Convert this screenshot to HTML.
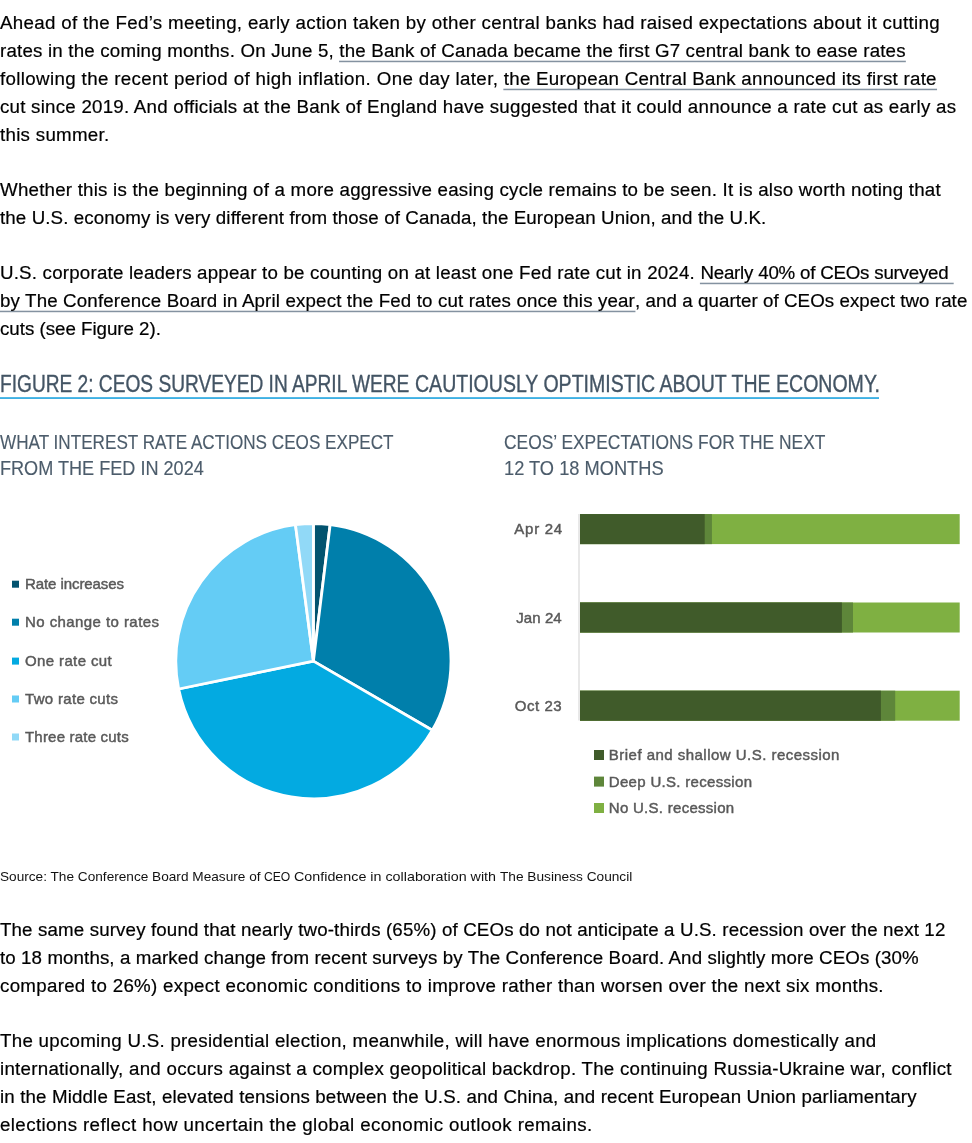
<!DOCTYPE html>
<html lang="en">
<head>
<meta charset="utf-8">
<title>Figure 2: CEOs surveyed in April were cautiously optimistic about the economy</title>
<style>
html,body{margin:0;padding:0;background:#fff;}
body{will-change:transform;width:972px;height:1143px;position:relative;overflow:hidden;font-family:"Liberation Sans",sans-serif;color:#000;}
p,h2,h3{margin:0;padding:0;font-weight:normal;}
.para{-webkit-text-stroke:0.2px #000;position:absolute;left:0;width:972px;font-size:18px;line-height:28px;color:#000;}
.para .ln{display:block;white-space:pre;height:28px;transform:scaleX(1.04);transform-origin:0 0;}
a{color:inherit;text-decoration:none;background:linear-gradient(to bottom,rgba(132,146,160,.3) 0,rgba(132,146,160,.3) 1px,rgba(132,146,160,1) 1px,rgba(132,146,160,1) 2px,rgba(132,146,160,.22) 2px,rgba(132,146,160,.22) 3px) no-repeat 0 100%/100% 3px;padding-bottom:2px;}
.one{position:absolute;white-space:pre;}
.fig{color:#435464;-webkit-text-stroke:0.35px #435464;}
.sub{color:#4c5c6b;-webkit-text-stroke:0.15px #4c5c6b;}
.src{color:#111;}
svg{position:absolute;left:0;top:0;}
svg text{font-family:"Liberation Sans",sans-serif;}
.lg{font-size:15px;font-weight:normal;fill:#595959;stroke:#595959;stroke-width:0.45px;}
</style>
</head>
<body>

<p class="para" style="top:9.00px">
<span class="ln" style="letter-spacing:0.305px">Ahead of the Fed’s meeting, early action taken by other central banks had raised expectations about it cutting</span>
<span class="ln"><span style="letter-spacing:0.181px">rates in the coming months. On June 5, </span><a style="letter-spacing:0.175px">the Bank of Canada became the first G7 central bank to ease rates</a></span>
<span class="ln"><span style="letter-spacing:0.341px">following the recent period of high inflation. One day later, </span><a style="letter-spacing:0.241px">the European Central Bank announced its first rate</a></span>
<span class="ln" style="letter-spacing:0.223px">cut since 2019. And officials at the Bank of England have suggested that it could announce a rate cut as early as</span>
<span class="ln" style="letter-spacing:0.270px">this summer.</span>
</p>
<p class="para" style="top:176.00px">
<span class="ln" style="letter-spacing:0.207px">Whether this is the beginning of a more aggressive easing cycle remains to be seen. It is also worth noting that</span>
<span class="ln" style="letter-spacing:0.099px">the U.S. economy is very different from those of Canada, the European Union, and the U.K.</span>
</p>
<p class="para" style="top:259.00px">
<span class="ln"><span style="letter-spacing:0.193px">U.S. corporate leaders appear to be counting on at least one Fed rate cut in 2024. </span><a style="letter-spacing:-0.205px">Nearly 40% of CEOs surveyed </a></span>
<span class="ln"><a style="letter-spacing:0.141px">by The Conference Board in April expect the Fed to cut rates once this year</a><span style="letter-spacing:0.062px">, and a quarter of CEOs expect two rate</span></span>
<span class="ln" style="letter-spacing:-0.018px">cuts (see Figure 2).</span>
</p>
<p class="para" style="top:916.00px">
<span class="ln" style="letter-spacing:0.133px">The same survey found that nearly two-thirds (65%) of CEOs do not anticipate a U.S. recession over the next 12</span>
<span class="ln" style="letter-spacing:0.091px">to 18 months, a marked change from recent surveys by The Conference Board. And slightly more CEOs (30%</span>
<span class="ln" style="letter-spacing:0.277px">compared to 26%) expect economic conditions to improve rather than worsen over the next six months.</span>
</p>
<p class="para" style="top:1027.00px">
<span class="ln" style="letter-spacing:0.264px">The upcoming U.S. presidential election, meanwhile, will have enormous implications domestically and</span>
<span class="ln" style="letter-spacing:0.253px">internationally, and occurs against a complex geopolitical backdrop. The continuing Russia-Ukraine war, conflict</span>
<span class="ln" style="letter-spacing:0.132px">in the Middle East, elevated tensions between the U.S. and China, and recent European Union parliamentary</span>
<span class="ln" style="letter-spacing:0.375px">elections reflect how uncertain the global economic outlook remains.</span>
</p>
<h2 class="one fig" style="left:0px;top:368.00px;font-size:23px;line-height:32px;"><span style="position:absolute;left:0px;top:0;transform:scaleX(0.8318);transform-origin:0 0">FIGURE 2: CEOS SURVEYED IN APRIL WERE </span><span style="position:absolute;left:414.6px;top:0;transform:scaleX(0.8491);transform-origin:0 0">CAUTIOUSLY OPTIMISTIC ABOUT THE ECONOMY.</span></h2>
<h3 class="one sub" style="left:0px;top:427.00px;font-size:20.5px;line-height:29px;transform:scaleX(0.8353);transform-origin:0 0">WHAT INTEREST RATE ACTIONS CEOS EXPECT</h3>
<h3 class="one sub" style="left:0px;top:453.00px;font-size:20.5px;line-height:29px;transform:scaleX(0.8827);transform-origin:0 0">FROM THE FED IN 2024</h3>
<h3 class="one sub" style="left:504px;top:427.00px;font-size:20.5px;line-height:29px;transform:scaleX(0.8490);transform-origin:0 0">CEOS’ EXPECTATIONS FOR THE NEXT</h3>
<h3 class="one sub" style="left:504px;top:453.00px;font-size:20.5px;line-height:29px;transform:scaleX(0.8904);transform-origin:0 0">12 TO 18 MONTHS</h3>
<p class="one src" style="left:0px;top:867.00px;font-size:13.5px;line-height:19px;"><span style="position:absolute;left:0px;top:0;transform:scaleX(1.0101);transform-origin:0 0">Source: The Conference Board Measure of </span><span style="position:absolute;left:264.3px;top:0;transform:scaleX(0.8996);transform-origin:0 0">CEO </span><span style="position:absolute;left:294.0px;top:0;transform:scaleX(1.0598);transform-origin:0 0">Confidence in collaboration with </span><span style="position:absolute;left:500.0px;top:0;transform:scaleX(1.0132);transform-origin:0 0">The Business Council</span></p>
<svg width="972" height="1143" viewBox="0 0 972 1143">
<rect x="0" y="397.2" width="879" height="1.7" fill="#2aa8e0"/>
<g stroke="#fff" stroke-width="2.8" stroke-linejoin="round">
<path d="M313.4,661.1 L313.40,523.50 A137.6,137.6 0 0 1 330.17,524.53 Z" fill="#02536f"/>
<path d="M313.4,661.1 L330.17,524.53 A137.6,137.6 0 0 1 432.32,730.32 Z" fill="#007fab"/>
<path d="M313.4,661.1 L432.32,730.32 A137.6,137.6 0 0 1 178.66,689.00 Z" fill="#03aae1"/>
<path d="M313.4,661.1 L178.66,689.00 A137.6,137.6 0 0 1 295.44,524.68 Z" fill="#64ccf5"/>
<path d="M313.4,661.1 L295.44,524.68 A137.6,137.6 0 0 1 313.40,523.50 Z" fill="#91d9f7"/>
</g>
<rect x="12" y="580.7" width="7" height="7" fill="#02536f"/>
<text class="lg" x="25" y="588.7" textLength="99.0" lengthAdjust="spacing">Rate increases</text>
<rect x="12" y="618.7" width="7" height="7" fill="#007fab"/>
<text class="lg" x="25" y="626.7" textLength="134.0" lengthAdjust="spacing">No change to rates</text>
<rect x="12" y="657.6" width="7" height="7" fill="#03aae1"/>
<text class="lg" x="25" y="665.6" textLength="86.7" lengthAdjust="spacing">One rate cut</text>
<rect x="12" y="695.5" width="7" height="7" fill="#64ccf5"/>
<text class="lg" x="25" y="703.5" textLength="93.0" lengthAdjust="spacing">Two rate cuts</text>
<rect x="12" y="733.5" width="7" height="7" fill="#91d9f7"/>
<text class="lg" x="25" y="741.5" textLength="103.7" lengthAdjust="spacing">Three rate cuts</text>
<rect x="578.5" y="514" width="1" height="206.5" fill="#d2d2d2"/>
<rect x="580" y="514.1" width="379.7" height="30" fill="#7fb042"/>
<rect x="580" y="514.1" width="131.9" height="30" fill="#5e863a"/>
<rect x="580" y="514.1" width="124.7" height="30" fill="#405b2a"/>
<rect x="580" y="602.5" width="379.7" height="30" fill="#7fb042"/>
<rect x="580" y="602.5" width="273.0" height="30" fill="#5e863a"/>
<rect x="580" y="602.5" width="261.9" height="30" fill="#405b2a"/>
<rect x="580" y="690.7" width="379.7" height="30" fill="#7fb042"/>
<rect x="580" y="690.7" width="315.2" height="30" fill="#5e863a"/>
<rect x="580" y="690.7" width="300.9" height="30" fill="#405b2a"/>
<text class="lg" x="514.3" y="533.8" textLength="47.9" lengthAdjust="spacing">Apr 24</text>
<text class="lg" x="516.3" y="622.7" textLength="45.4" lengthAdjust="spacing">Jan 24</text>
<text class="lg" x="514.8" y="711.0" textLength="46.9" lengthAdjust="spacing">Oct 23</text>
<rect x="594" y="750.0" width="10" height="10" fill="#405b2a"/>
<text class="lg" x="608.8" y="760.0" textLength="230.6" lengthAdjust="spacing">Brief and shallow U.S. recession</text>
<rect x="594" y="776.6" width="10" height="10" fill="#5e863a"/>
<text class="lg" x="608.8" y="786.6" textLength="143.2" lengthAdjust="spacing">Deep U.S. recession</text>
<rect x="594" y="803.0" width="10" height="10" fill="#7fb042"/>
<text class="lg" x="608.8" y="813.0" textLength="125.4" lengthAdjust="spacing">No U.S. recession</text>
</svg>
</body>
</html>
